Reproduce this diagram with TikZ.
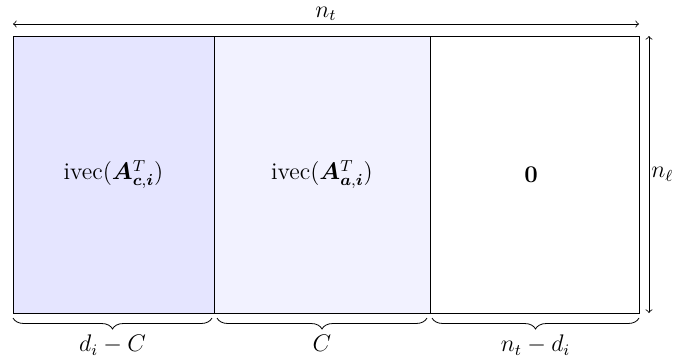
\documentclass[tikz,border=0pt]{standalone}
\usepackage{bm}
\usetikzlibrary{decorations.pathreplacing}
\tikzset{
    ubrace/.style={decorate, decoration={brace, mirror, amplitude=5.5pt}},
}
\begin{document}
\begin{tikzpicture}[x=1pt,y=1pt,font=\large]
    \useasboundingbox (0,0) rectangle (336.5,180);
    % blocks of the matrix
    \draw[fill=blue!10] (6.5,23.5) rectangle (107,162);
    \node (cblk) at (56.75,92.75) {ivec($\bm{A}^T_{\bm{c},\bm{i}}$)};
    
    \draw[fill=blue!5] (107,23.5) rectangle (215,162);
    \node (ablk) at (161,92.75) {ivec($\bm{A}^T_{\bm{a},\bm{i}}$)};
    
    \draw (215,23.5) rectangle (319.5,162);
    \node (zblk) at (265.5,92.75) {$\mathbf{0}$};
    
    % dimensions
    \coordinate (tl) at (6.5,168);
    \coordinate (tr) at (319.5,168);
    \coordinate (rt) at (324.5,162);
    \coordinate (rb) at (324.5,23.5);
    \draw[<->] (tl) -- (tr) node[midway, above, inner sep=1.5pt] (nt) {$n_t$};
    \draw[<->] (rt) -- (rb) node[midway, right, inner sep=1pt] (nl) {$n_\ell$};
    
    \draw[ubrace] (6.5,21) -- (106,21) node[midway, below=5pt] (bc) {$d_i - C$};
    \draw[ubrace] (108.5,21) -- (213.5,21) node[midway, below=5pt] (ba) {$C$};
    \draw[ubrace] (216,21) -- (319.5,21) node[midway, below=5pt] (bz) {$n_t - d_i$};
\end{tikzpicture}
\end{document}
